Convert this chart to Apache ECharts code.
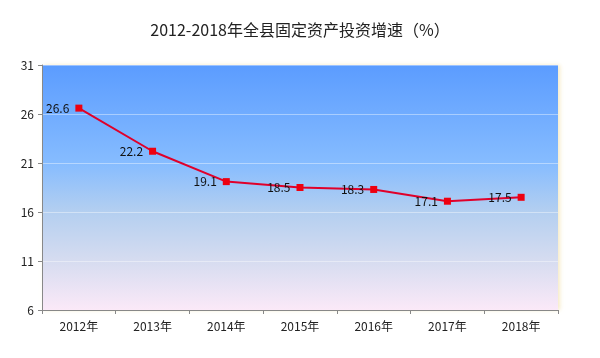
<!DOCTYPE html>
<html><head><meta charset="utf-8">
<script src="https://cdn.jsdelivr.net/npm/echarts@6/dist/echarts.min.js"></script>
<style>html,body{margin:0;padding:0;background:#fff}#c{width:600px;height:358px}</style>
</head><body><div id="c"></div>
<script>
const categories = ['2012年','2013年','2014年','2015年','2016年','2017年','2018年'];
const growth = [26.6, 22.2, 19.1, 18.5, 18.3, 17.1, 17.5];
const titleText = '2012-2018年全县固定资产投资增速（%）';
const yMin = 6, yMax = 31, yStep = 5;

const font = '"Noto Sans CJK SC", "Microsoft YaHei", sans-serif';
const chart = echarts.init(document.getElementById('c'), null, {renderer:'canvas'});
chart.setOption({
  animation:false,
  title:{text:titleText,left:'center',top:17,textStyle:{fontFamily:font,fontSize:16,fontWeight:'normal',color:'#222'}},
  grid:{left:42,right:42,top:65,bottom:48,show:true,borderWidth:0,
    backgroundColor:new echarts.graphic.LinearGradient(0,0,0,1,[
      {offset:0,color:'#5b9cff'},
      {offset:0.4,color:'#86bcff'},
      {offset:0.6,color:'#b4cff0'},
      {offset:0.8,color:'#d6dcf0'},
      {offset:1,color:'#fbe9f8'}]),
    shadowColor:'rgba(240,220,160,0.6)',shadowBlur:4,shadowOffsetX:2},
  xAxis:{type:'category',data:categories,boundaryGap:true,
    axisLine:{lineStyle:{color:'#888'}},
    axisTick:{show:true,length:4,lineStyle:{color:'#888'}},
    axisLabel:{fontFamily:font,fontSize:12,color:'#222',margin:10}},
  yAxis:{type:'value',min:yMin,max:yMax,interval:yStep,
    axisLine:{show:true,lineStyle:{color:'#888'}},
    axisTick:{show:true,length:4,lineStyle:{color:'#888'}},
    axisLabel:{fontFamily:font,fontSize:12,color:'#222',margin:8},
    splitLine:{lineStyle:{color:'rgba(255,255,255,0.4)',width:1}}},
  series:[{type:'line',data:growth,symbol:'rect',symbolSize:7,
    lineStyle:{color:'#e0002a',width:2},
    itemStyle:{color:'#ee0010',borderWidth:0},
    label:{show:true,position:'left',distance:6,fontFamily:font,fontSize:12,color:'#111'}}]
});
</script></body></html>
